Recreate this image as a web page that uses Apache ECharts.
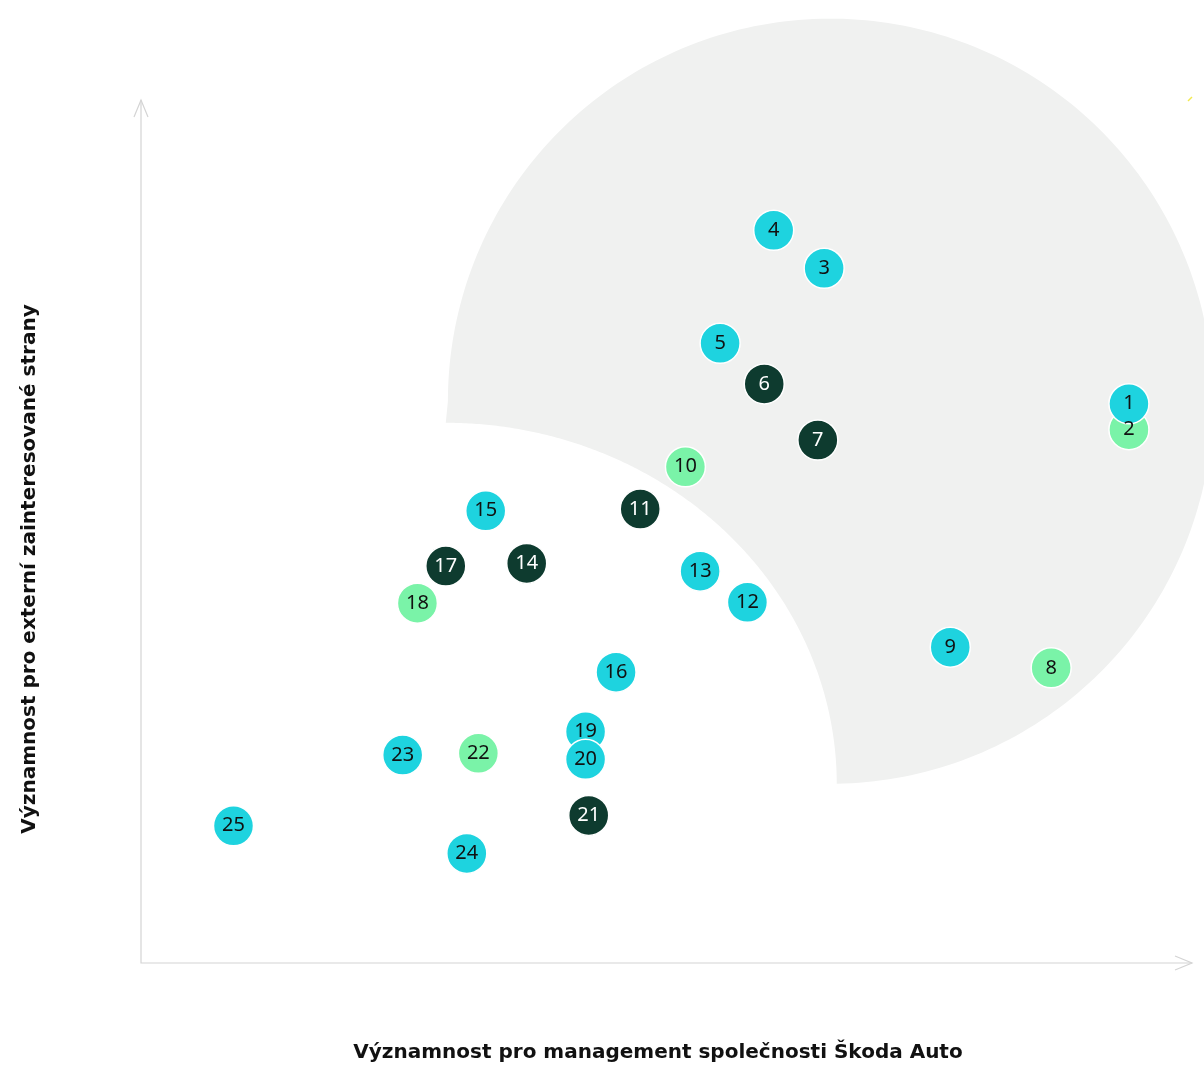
<!DOCTYPE html>
<html><head><meta charset="utf-8">
<script src="https://cdn.jsdelivr.net/npm/echarts@6/dist/echarts.min.js"></script>
<style>html,body{margin:0;padding:0;background:#fff}#c{width:1204px;height:1065px}</style>
</head><body><div id="c"></div>
<script>
// ---- data (topic number, x = importance for management, y = importance for stakeholders) ----
const topicLabels = ['1','2','3','4','5','6','7','8','9','10','11','12','13','14','15','16','17','18','19','20','21','22','23','24','25'];
const xValues = [94.0, 94.0, 65.0, 60.2, 55.1, 59.3, 64.4, 86.6, 77.0, 51.8, 47.5, 57.7, 53.2, 36.7, 32.8, 45.2, 29.0, 26.3, 42.3, 42.3, 42.6, 32.1, 24.9, 31.0, 8.8];
const yValues = [64.8, 61.8, 80.5, 84.9, 71.8, 67.1, 60.6, 34.2, 36.6, 57.5, 52.6, 41.8, 45.4, 46.3, 52.4, 33.7, 46.0, 41.7, 26.8, 23.6, 17.1, 24.3, 24.1, 12.7, 15.9];
const groups  = ['c','g','c','c','c','d','d','g','c','g','d','c','c','d','c','c','d','g','c','c','d','g','c','c','c'];
const xAxisTitle = 'Významnost pro management společnosti Škoda Auto';
const yAxisTitle = 'Významnost pro externí zainteresované strany';

// ---- styles ----
const groupStyle = {
  g: {fill: '#7af3a8', text: '#111111'},
  d: {fill: '#0e3b2f', text: '#ffffff'},
  c: {fill: '#1ed3df', text: '#111111'}
};
// decoration geometry (data units)
const outerZone = {cx: 65.6, cy: 65.1, r: 36.4};
const innerCut = {cx: 29.0, cy: 20.7, rx: 37.2, ry: 41.9};

function seriesFor(g) {
  const data = [];
  topicLabels.forEach((lab, i) => {
    if (groups[i] === g) data.push({name: lab, value: [xValues[i], yValues[i]]});
  });
  return {
    type: 'scatter', z: 5, data: data, symbolSize: 40,
    itemStyle: {color: groupStyle[g].fill, borderColor: '#ffffff', borderWidth: 1.5, opacity: 1},
    label: {show: true, position: 'inside', formatter: '{b}', color: groupStyle[g].text,
            fontFamily: 'Noto Sans', fontSize: 20},
    emphasis: {disabled: true}, animation: false
  };
}

const chart = echarts.init(document.getElementById('c'), null, {renderer: 'canvas'});
chart.setOption({
  animation: false,
  grid: {left: 141, right: 12, top: 100, bottom: 102},
  xAxis: {type: 'value', min: 0, max: 100, axisLine: {show: false}, axisTick: {show: false},
          axisLabel: {show: false}, splitLine: {show: false}},
  yAxis: {type: 'value', min: 0, max: 100, axisLine: {show: false}, axisTick: {show: false},
          axisLabel: {show: false}, splitLine: {show: false}},
  series: [seriesFor('g'), seriesFor('d'), seriesFor('c')]
});

function decor() {
  const p = v => chart.convertToPixel({gridIndex: 0}, v);
  const o = p([outerZone.cx, outerZone.cy]);
  const R = p([outerZone.cx + outerZone.r, outerZone.cy])[0] - o[0];
  const ic = p([innerCut.cx, innerCut.cy]);
  const rx = p([innerCut.cx + innerCut.rx, innerCut.cy])[0] - ic[0];
  const ry = ic[1] - p([innerCut.cx, innerCut.cy + innerCut.ry])[1];
  const pts = [];
  const n = 240;
  const a0 = Math.PI, a1 = Math.PI * 2.5 - Math.max(0, Math.asin(Math.max(-1, Math.min(1, (ic[0] + rx - o[0]) / R))));
  for (let k = 0; k <= n; k++) {
    const a = a0 + (a1 - a0) * k / n;
    pts.push([o[0] + R * Math.cos(a), o[1] + R * Math.sin(a)]);
  }
  for (let k = 0; k <= n; k++) {
    const a = -Math.PI / 2 * k / n;
    pts.push([ic[0] + rx * Math.cos(a), ic[1] + ry * Math.sin(a)]);
  }
  const org = p([0, 0]), xe = p([100, 0]), ye = p([0, 100]);
  const axisStyle = {stroke: '#d4d4d4', lineWidth: 1.2, fill: null};
  chart.setOption({graphic: [
    {type: 'polygon', z: -10, silent: true, shape: {points: pts}, style: {fill: '#f0f1f0'}},
    {type: 'polyline', z: 1, silent: true, shape: {points: [ye, org, xe]}, style: axisStyle},
    {type: 'polyline', z: 1, silent: true, shape: {points: [[xe[0] - 17, xe[1] - 7], xe, [xe[0] - 17, xe[1] + 7]]}, style: axisStyle},
    {type: 'polyline', z: 1, silent: true, shape: {points: [[ye[0] - 7, ye[1] + 17], ye, [ye[0] + 7, ye[1] + 17]]}, style: axisStyle},
    {type: 'line', z: 1, silent: true, shape: {x1: xe[0] - 4, y1: ye[1] + 1, x2: xe[0], y2: ye[1] - 3}, style: {stroke: '#f2e94e', lineWidth: 1.5}},
    {type: 'text', z: 3, silent: true, x: 658, y: 1053,
     style: {text: xAxisTitle, fill: '#111', font: 'bold 20px "DejaVu Sans"', align: 'center', verticalAlign: 'middle'}},
    {type: 'text', z: 3, silent: true, x: 30, y: 569, rotation: Math.PI / 2,
     style: {text: yAxisTitle, fill: '#111', font: 'bold 20px "DejaVu Sans"', align: 'center', verticalAlign: 'middle'}}
  ]});
}
decor();
</script>
</body></html>
